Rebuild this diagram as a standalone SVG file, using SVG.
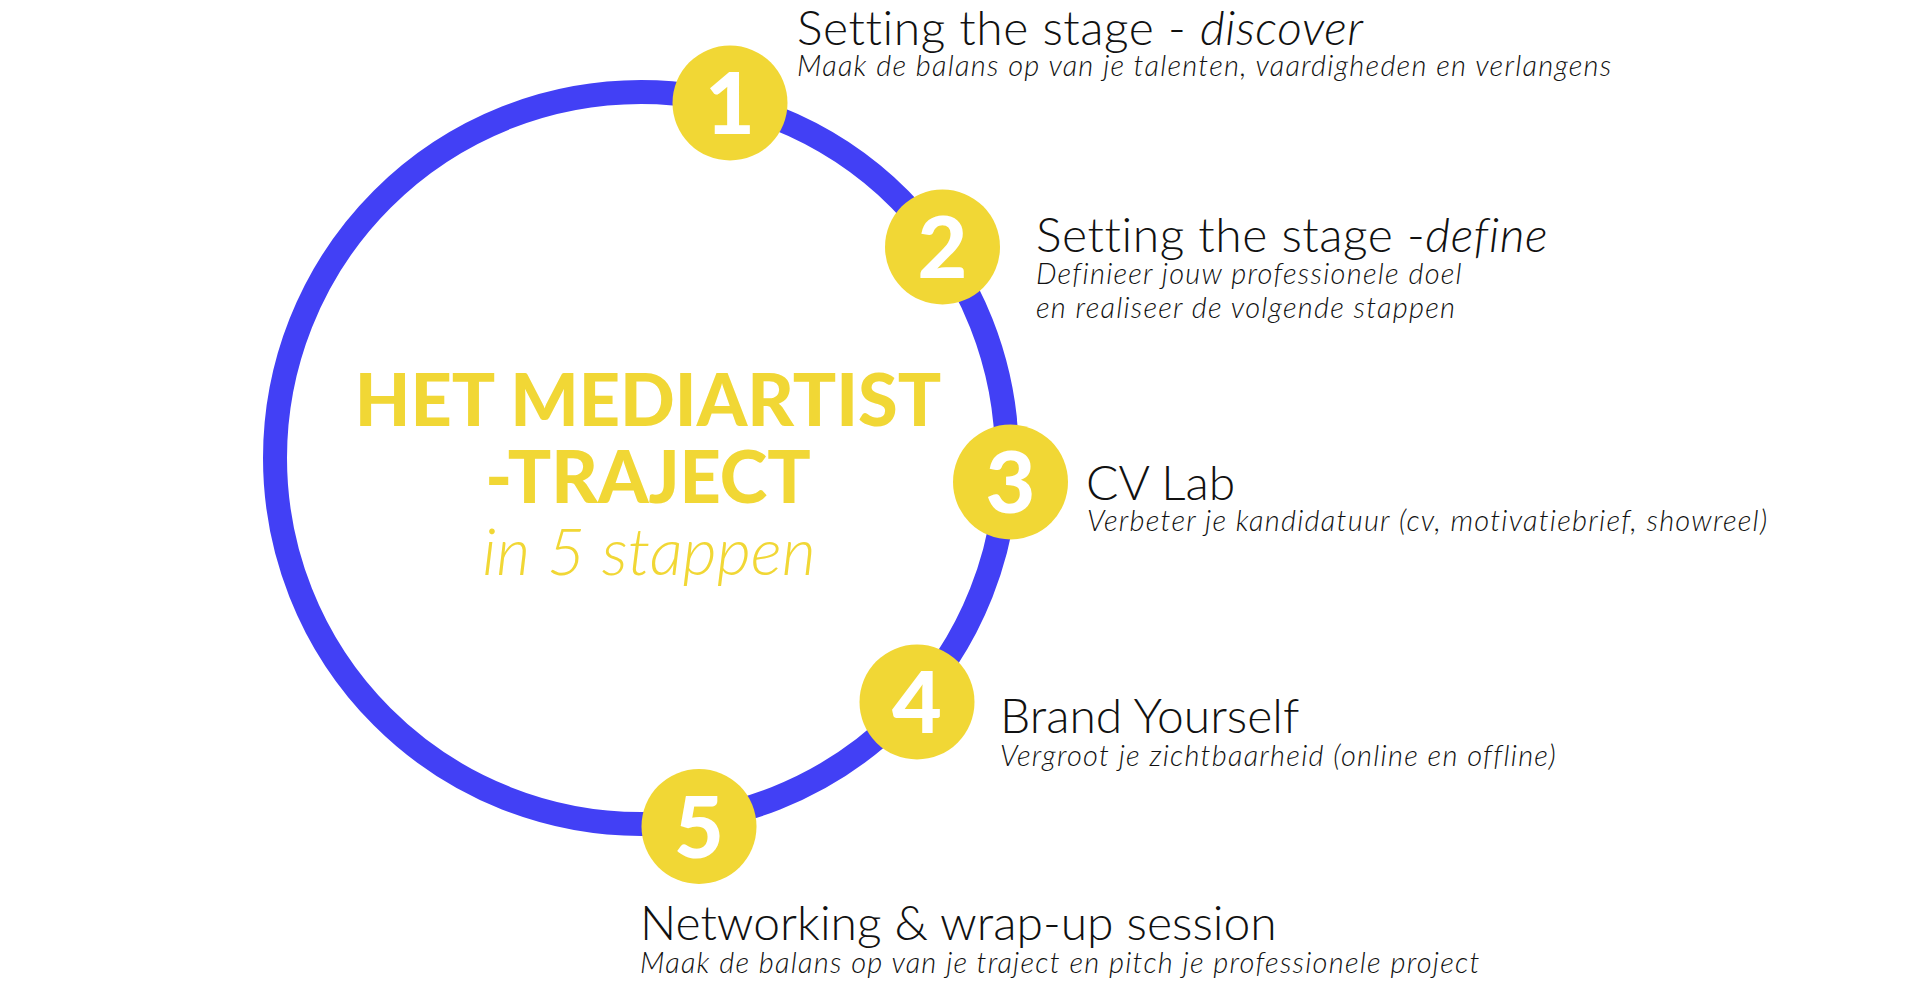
<svg xmlns="http://www.w3.org/2000/svg" width="1920" height="1007" viewBox="0 0 1920 1007">
<style>
.ring{fill:none;stroke:#4240f5;stroke-width:24}
.dot{fill:#f1d735}
.num{font-family:Lato,"Liberation Sans",sans-serif;font-weight:900;font-size:86px;fill:#ffffff;text-anchor:middle}
.ttl{font-family:Lato,"Liberation Sans",sans-serif;font-weight:300;font-size:48px;fill:#111111;font-variant-ligatures:none}
.wide{letter-spacing:0.55px}
.sub{font-family:Lato,"Liberation Sans",sans-serif;font-weight:300;font-style:italic;font-size:29px;letter-spacing:1.25px;fill:#111111;font-variant-ligatures:none}
.it{font-style:italic}
.big{font-family:Lato,"Liberation Sans",sans-serif;font-weight:900;font-size:72px;fill:#f1d735;text-anchor:middle}
.tag{font-family:Lato,"Liberation Sans",sans-serif;font-weight:300;font-style:italic;font-size:66px;fill:#f1d735;text-anchor:middle}
</style>
<rect width="1920" height="1007" fill="#ffffff"/>
<g id="connectors">
<circle class="ring" cx="641" cy="458" r="366"/>
</g>
<g id="center-title">
<text class="big" x="648" y="426">HET MEDIARTIST</text>
<text class="big" x="648" y="503">-TRAJECT</text>
<text class="tag" x="649" y="575">in 5 stappen</text>
</g>
<g id="step1">
<circle class="dot" cx="730" cy="103" r="57.5"/>
<text class="num" x="730" y="134">1</text>
<text class="ttl wide" x="797" y="45">Setting the stage - <tspan class="it">discover</tspan></text>
<text class="sub" x="797" y="76">Maak de balans op van je talenten, vaardigheden en verlangens</text>
</g>
<g id="step2">
<circle class="dot" cx="942.5" cy="247" r="57.5"/>
<text class="num" x="942.5" y="278">2</text>
<text class="ttl wide" x="1036" y="252">Setting the stage -<tspan class="it">define</tspan></text>
<text class="sub" x="1036" y="284">Definieer jouw professionele doel</text>
<text class="sub" x="1036" y="318">en realiseer de volgende stappen</text>
</g>
<g id="step3">
<circle class="dot" cx="1010.5" cy="482" r="57.5"/>
<text class="num" x="1010.5" y="513">3</text>
<text class="ttl" x="1086" y="500">CV Lab</text>
<text class="sub" x="1087" y="531">Verbeter je kandidatuur (cv, motivatiebrief, showreel)</text>
</g>
<g id="step4">
<circle class="dot" cx="917" cy="702" r="57.5"/>
<text class="num" x="917" y="733">4</text>
<text class="ttl" x="1000" y="733">Brand Yourself</text>
<text class="sub" x="1000" y="766">Vergroot je zichtbaarheid (online en offline)</text>
</g>
<g id="step5">
<circle class="dot" cx="699" cy="826.5" r="57.5"/>
<text class="num" x="699" y="857.5">5</text>
<text class="ttl" x="640" y="940">Networking &amp; wrap-up session</text>
<text class="sub" x="640" y="973">Maak de balans op van je traject en pitch je professionele project</text>
</g>
</svg>
